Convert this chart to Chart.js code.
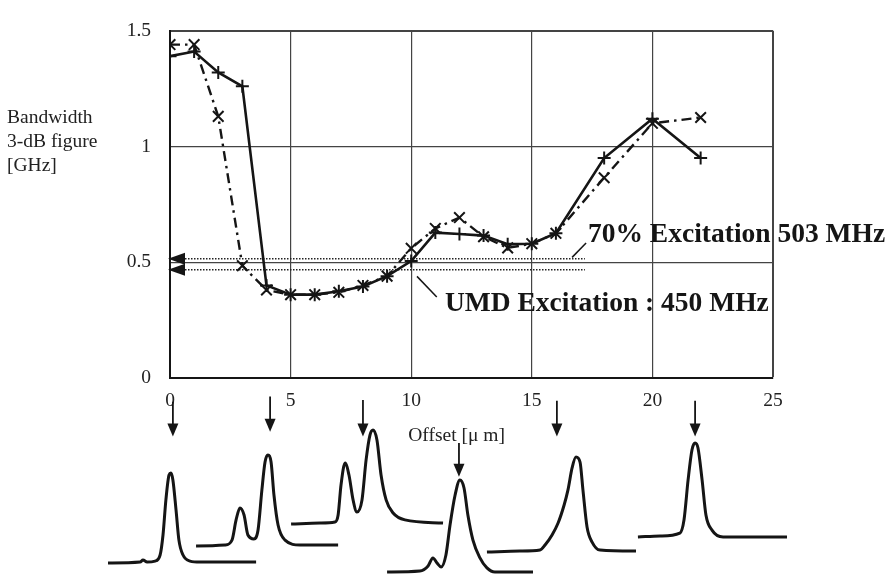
<!DOCTYPE html>
<html>
<head>
<meta charset="utf-8">
<script src="https://cdn.jsdelivr.net/npm/chart.js@4.4.0/dist/chart.umd.min.js"></script>
<style>
  html, body { margin: 0; padding: 0; background: #fff; }
  #wrap { position: relative; width: 889px; height: 574px; overflow: hidden; }
  #main { position: absolute; left: 0; top: 0; }
  #pulses { position: absolute; left: 0; top: 378px; }
</style>
</head>
<body>
<div id="wrap">
  <canvas id="main" width="889" height="574"></canvas>
  <canvas id="pulses" width="889" height="196"></canvas>
</div>
<script>
// Data
const offsets = [0, 1, 2, 3, 4, 5, 6, 7, 8, 9, 10, 11, 12, 13, 14, 15, 16, 18, 20, 22];
const bwSolid = [1.39, 1.41, 1.32, 1.26, 0.40, 0.36, 0.36, 0.375, 0.395, 0.44, 0.505, 0.628, 0.622, 0.615, 0.578, 0.58, 0.625, 0.95, 1.12, 0.95];
const bwDashDot = [1.44, 1.44, 1.13, 0.485, 0.38, 0.36, 0.36, 0.37, 0.40, 0.44, 0.56, 0.646, 0.693, 0.61, 0.562, 0.58, 0.625, 0.865, 1.10, 1.125];
const yTicks = [0, 0.5, 1, 1.5];
const xTicks = [0, 5, 10, 15, 20, 25];

// dotted excitation levels (70% = 503 MHz, UMD = 450 MHz)
const excitationLevels = [0.515, 0.467];
const excitationEnd = 17.2;
const noteLabels = ['70% Excitation 503 MHz', 'UMD Excitation : 450 MHz'];
const leader70 = [[16.67, 0.521], [17.25, 0.583]];
const leaderUmd = [[10.24, 0.439], [11.06, 0.35]];

// pulse shapes under the plot (x in µm offset, y in arbitrary signal units 0..100)
const pulse0x = [-2.57, -1.24, -1.12, -0.95, -0.62, -0.41, -0.29, -0.17, -0.04, 0.04, 0.12, 0.25, 0.37, 0.54, 0.83, 1.24, 3.57];
const pulse0y = [5.6, 6.1, 7.1, 6.1, 6.6, 9.7, 19.9, 37.8, 50.5, 51.5, 48.0, 32.7, 17.3, 9.7, 6.6, 6.1, 6.1];
const pulse4x = [1.08, 2.28, 2.57, 2.74, 2.90, 3.07, 3.23, 3.48, 3.65, 3.81, 3.94, 4.06, 4.19, 4.31, 4.48, 4.77, 5.39, 6.97];
const pulse4y = [14.3, 14.8, 17.3, 27.6, 33.7, 30.1, 19.9, 17.9, 22.4, 42.9, 57.1, 60.7, 57.1, 40.3, 25.0, 17.3, 14.8, 14.8];
const pulse8x = [5.02, 6.22, 6.84, 6.97, 7.09, 7.26, 7.42, 7.59, 7.75, 7.96, 8.13, 8.29, 8.42, 8.58, 8.75, 8.96, 9.25, 9.74, 11.32];
const pulse8y = [25.5, 26.0, 26.5, 30.1, 45.4, 56.6, 50.5, 37.8, 31.6, 37.8, 58.2, 70.9, 73.5, 68.4, 50.5, 37.8, 31.1, 27.6, 26.0];
const pulse12x = [9.00, 10.36, 10.70, 10.90, 11.07, 11.24, 11.44, 11.61, 11.82, 12.02, 12.19, 12.35, 12.56, 12.85, 13.14, 13.47, 15.05];
const pulse12y = [1.0, 1.5, 4.1, 8.2, 5.6, 3.6, 9.7, 25.0, 40.3, 48.0, 43.9, 30.1, 17.3, 8.2, 3.1, 1.0, 1.0];
const pulse16x = [13.14, 14.51, 15.34, 15.55, 15.84, 16.09, 16.34, 16.50, 16.67, 16.83, 17.00, 17.12, 17.29, 17.50, 17.83, 19.32];
const pulse16y = [11.2, 11.7, 12.2, 14.8, 19.9, 26.0, 35.2, 42.9, 54.1, 59.7, 57.1, 42.9, 24.0, 16.3, 12.2, 11.7];
const pulse22x = [19.40, 20.32, 21.14, 21.31, 21.48, 21.64, 21.77, 21.89, 22.06, 22.22, 22.47, 22.93, 25.58];
const pulse22y = [18.9, 19.4, 20.9, 27.6, 48.0, 63.3, 66.8, 64.3, 48.0, 30.1, 22.4, 18.9, 18.9];
const arrowOffsets = [0.12, 4.15, 8.0, 11.98, 16.04, 21.77];
const arrowTop = [87.9, 90.5, 88.8, 66.8, 88.4, 88.4];
const arrowTip = [70.1, 72.6, 70.1, 49.6, 70.1, 70.1];

const toXY = (xs, ys) => xs.map((x, i) => ({ x: x, y: ys[i] }));

Chart.defaults.font.family = '"Liberation Serif", "Times New Roman", serif';
Chart.defaults.font.size = 19.5;
Chart.defaults.color = '#222';

// plot box in pixels
const AREA = { left: 170, right: 773, top: 18, bottom: 378 };

const ink = '#151515';

const extras = {
  id: 'extras',
  afterDraw(chart) {
    const c = chart.ctx;
    const xs = chart.scales.x, ys = chart.scales.y;
    c.save();
    // arrow heads on the left axis
    c.fillStyle = ink;
    const x0 = xs.getPixelForValue(0);
    excitationLevels.forEach(v => {
      const py = ys.getPixelForValue(v);
      c.beginPath();
      c.moveTo(x0 - 2, py);
      c.lineTo(x0 + 15, py - 6);
      c.lineTo(x0 + 15, py + 6);
      c.closePath();
      c.fill();
    });
    // annotations
    c.font = 'bold 27.5px "Liberation Serif", serif';
    c.textBaseline = 'alphabetic';
    c.textAlign = 'left';
    c.fillText(noteLabels[0], xs.getPixelForValue(17.33), ys.getPixelForValue(0.5875));
    c.fillText(noteLabels[1], xs.getPixelForValue(11.40), ys.getPixelForValue(0.29));
    // axis titles
    c.font = '19.5px "Liberation Serif", serif';
    c.fillStyle = '#222';
    c.fillText('Bandwidth', 7, 123);
    c.fillText('3-dB figure', 7, 147);
    c.fillText('[GHz]', 7, 171);
    c.fillText('Offset [\u03bc m]', xs.getPixelForValue(10) - 3, AREA.bottom + 63);
    c.restore();
  }
};

new Chart(document.getElementById('main'), {
  type: 'line',
  data: {
    datasets: [{
      label: 'solid',
      data: toXY(offsets, bwSolid),
      borderColor: ink,
      borderWidth: 2.6,
      pointStyle: 'cross',
      pointRadius: 6.5,
      pointBorderWidth: 2,
      pointBorderColor: ink
    }, {
      label: 'dash-dot',
      data: toXY(offsets, bwDashDot),
      borderColor: ink,
      borderWidth: 2.4,
      borderDash: [10, 5, 2.5, 5],
      pointStyle: 'crossRot',
      pointRadius: 7.5,
      pointBorderWidth: 2,
      pointBorderColor: ink
    }, {
      data: [{ x: 0, y: excitationLevels[0] }, { x: excitationEnd, y: excitationLevels[0] }],
      borderColor: '#222', borderWidth: 1.5, borderDash: [1.5, 1.5], pointRadius: 0
    }, {
      data: [{ x: 0, y: excitationLevels[1] }, { x: excitationEnd, y: excitationLevels[1] }],
      borderColor: '#222', borderWidth: 1.5, borderDash: [1.5, 1.5], pointRadius: 0
    }, {
      data: leader70.map(p => ({ x: p[0], y: p[1] })),
      borderColor: ink, borderWidth: 1.5, pointRadius: 0
    }, {
      data: leaderUmd.map(p => ({ x: p[0], y: p[1] })),
      borderColor: ink, borderWidth: 1.5, pointRadius: 0
    }]
  },
  options: {
    responsive: false,
    animation: false,
    layout: { padding: { left: 0, top: AREA.top, right: 889 - AREA.right, bottom: 0 } },
    plugins: { legend: { display: false }, tooltip: { enabled: false } },
    scales: {
      x: {
        type: 'linear',
        min: 0, max: 25,
        afterBuildTicks: s => { s.ticks = xTicks.map(v => ({ value: v })); },
        afterFit: s => { s.height = 574 - AREA.bottom; },
        ticks: { padding: 11, color: '#222', callback: v => String(v) },
        grid: {
          drawTicks: false,
          color: '#444',
          lineWidth: ctx => (ctx.tick && ctx.tick.value === 25 ? 2 : 1.2)
        },
        border: { width: 2, color: ink }
      },
      y: {
        min: 0, max: 1.5,
        afterBuildTicks: s => { s.ticks = yTicks.map(v => ({ value: v })); },
        afterFit: s => { s.width = AREA.left; },
        ticks: { padding: 19, color: '#222', callback: v => String(v) },
        grid: {
          drawTicks: false,
          color: '#444',
          lineWidth: ctx => (ctx.tick && ctx.tick.value === 1.5 ? 2 : 1.2)
        },
        border: { width: 2, color: ink }
      }
    }
  },
  plugins: [extras]
});

// pulse shapes chart, x scale aligned with the main plot
const unitPx = (AREA.right - AREA.left) / 25;
const arrows = {
  id: 'arrows',
  afterDatasetsDraw(chart) {
    const c = chart.ctx;
    const xs = chart.scales.x, ys = chart.scales.y;
    c.save();
    c.strokeStyle = ink;
    c.fillStyle = ink;
    c.lineWidth = 1.8;
    arrowOffsets.forEach((v, i) => {
      const px = xs.getPixelForValue(v);
      const top = ys.getPixelForValue(arrowTop[i]);
      const tip = ys.getPixelForValue(arrowTip[i]);
      c.beginPath();
      c.moveTo(px, top);
      c.lineTo(px, tip - 10);
      c.stroke();
      c.beginPath();
      c.moveTo(px, tip);
      c.lineTo(px - 5.5, tip - 13);
      c.lineTo(px + 5.5, tip - 13);
      c.closePath();
      c.fill();
    });
    c.restore();
  }
};

const pulseSet = (xs, ys) => ({
  data: toXY(xs, ys),
  borderColor: ink,
  borderWidth: 3,
  pointRadius: 0,
  cubicInterpolationMode: 'monotone',
  clip: false
});

new Chart(document.getElementById('pulses'), {
  type: 'line',
  data: {
    datasets: [
      pulseSet(pulse0x, pulse0y),
      pulseSet(pulse4x, pulse4y),
      pulseSet(pulse8x, pulse8y),
      pulseSet(pulse12x, pulse12y),
      pulseSet(pulse16x, pulse16y),
      pulseSet(pulse22x, pulse22y)
    ]
  },
  options: {
    responsive: false,
    animation: false,
    layout: { padding: 0 },
    plugins: { legend: { display: false }, tooltip: { enabled: false } },
    scales: {
      x: { type: 'linear', display: false, min: -AREA.left / unitPx, max: 25 + (889 - AREA.right) / unitPx },
      y: { display: false, min: 0, max: 100 }
    }
  },
  plugins: [arrows]
});
</script>
</body>
</html>
